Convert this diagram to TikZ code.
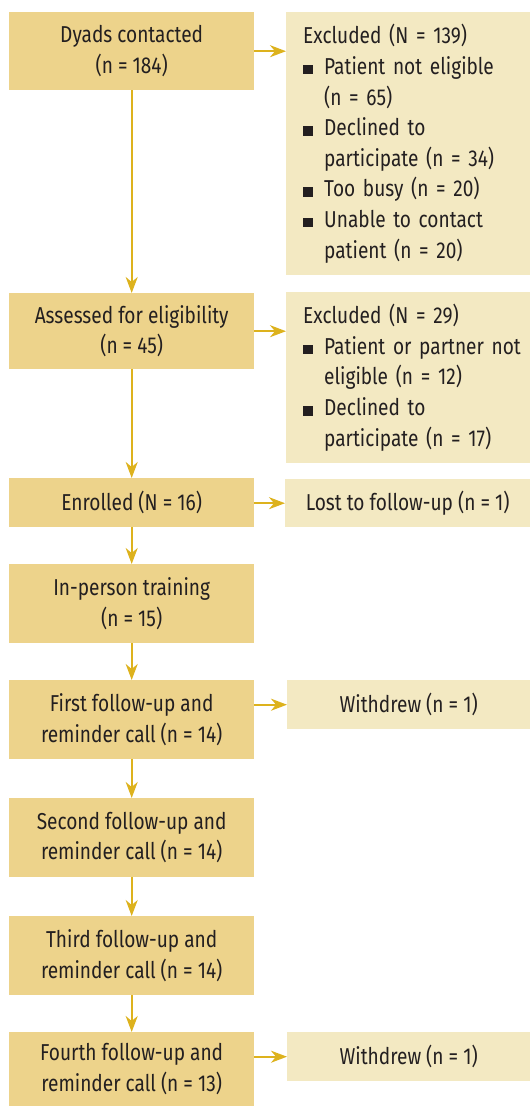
\documentclass[tikz,border=0pt]{standalone}
\usepackage{fontspec}
\setmainfont{Fira Sans}[FakeStretch=0.83]
\usetikzlibrary{arrows.meta}
\definecolor{boxdark}{HTML}{EDD38B}
\definecolor{boxlight}{HTML}{F3E9C2}
\definecolor{arrowc}{HTML}{DDB21D}
\definecolor{txt}{HTML}{231F20}
\newcommand{\bul}{\makebox[21pt][l]{\rule{10pt}{9.5pt}}}
\newcommand{\ind}{\hspace*{21pt}}
\begin{document}
\begin{tikzpicture}[x=1pt,y=-1pt,
  every node/.style={font=\fontsize{23}{30.6}\selectfont, text=txt},
  mainbox/.style={fill=boxdark, inner sep=0pt, align=center, minimum width=245pt, anchor=north west},
  sidebox/.style={fill=boxlight, inner sep=0pt, anchor=north west},
  listbox/.style={sidebox, align=left, text width=210pt, inner xsep=17pt},
  flow/.style={draw=arrowc, line width=1.8pt, -{Stealth[length=16pt,width=12pt,inset=5pt]}}]
\useasboundingbox (0,0) rectangle (530,1106);
% main column
\node[mainbox, minimum height=78pt] (b1) at (9,12) {Dyads contacted\\(n = 184)};
\node[mainbox, minimum height=76pt] (b2) at (9,293) {Assessed for eligibility\\(n = 45)};
\node[mainbox, minimum height=49pt] (b3) at (9,478) {Enrolled (N = 16)};
\node[mainbox, minimum height=79pt] (b4) at (9,564) {In-person training\\(n = 15)};
\node[mainbox, minimum height=79pt] (b5) at (9,680) {First follow-up and\\reminder call (n = 14)};
\node[mainbox, minimum height=79pt] (b6) at (9,798) {Second follow-up and\\reminder call (n = 14)};
\node[mainbox, minimum height=79pt] (b7) at (9,916) {Third follow-up and\\reminder call (n = 14)};
\node[mainbox, minimum height=74pt] (b8) at (9,1032) {Fourth follow-up and\\reminder call (n = 13)};
% side column
\node[listbox, minimum height=263pt] (r1) at (286,12)
  {\mbox{Excluded (N = 139)}\\
   \mbox{\bul Patient not eligible}\\
   \mbox{\ind(n = 65)}\\
   \mbox{\bul Declined to}\\
   \mbox{\ind participate (n = 34)}\\
   \mbox{\bul Too busy (n = 20)}\\
   \mbox{\bul Unable to contact}\\
   \mbox{\ind patient (n = 20)}};
\node[listbox, minimum height=171pt] (r2) at (286,292)
  {\mbox{Excluded (N = 29)}\\
   \mbox{\bul Patient or partner not}\\
   \mbox{\ind eligible (n = 12)}\\
   \mbox{\bul Declined to}\\
   \mbox{\ind participate (n = 17)}};
\node[sidebox, minimum height=48pt, minimum width=245pt, align=center] (r3) at (285,479) {Lost to follow-up (n = 1)};
\node[sidebox, minimum height=49pt, minimum width=243pt, align=center] (w1) at (287,680) {Withdrew (n = 1)};
\node[sidebox, minimum height=49pt, minimum width=243pt, align=center] (w2) at (287,1032) {Withdrew (n = 1)};
% connectors
\draw[flow] (b1.south) -- (b2.north);
\draw[flow] (b2.south) -- (b3.north);
\draw[flow] (b3.south) -- (b4.north);
\draw[flow] (b4.south) -- (b5.north);
\draw[flow] (b5.south) -- (b6.north);
\draw[flow] (b6.south) -- (b7.north);
\draw[flow] (b7.south) -- (b8.north);
\draw[flow] (b1.east) -- (b1.east -| r1.west);
\draw[flow] (b2.east) -- (b2.east -| r2.west);
\draw[flow] (b3.east |- r3.west) -- (r3.west);
\draw[flow] (b5.east |- w1.west) -- (w1.west);
\draw[flow] (b8.east |- w2.west) -- (w2.west);
\end{tikzpicture}
\end{document}
